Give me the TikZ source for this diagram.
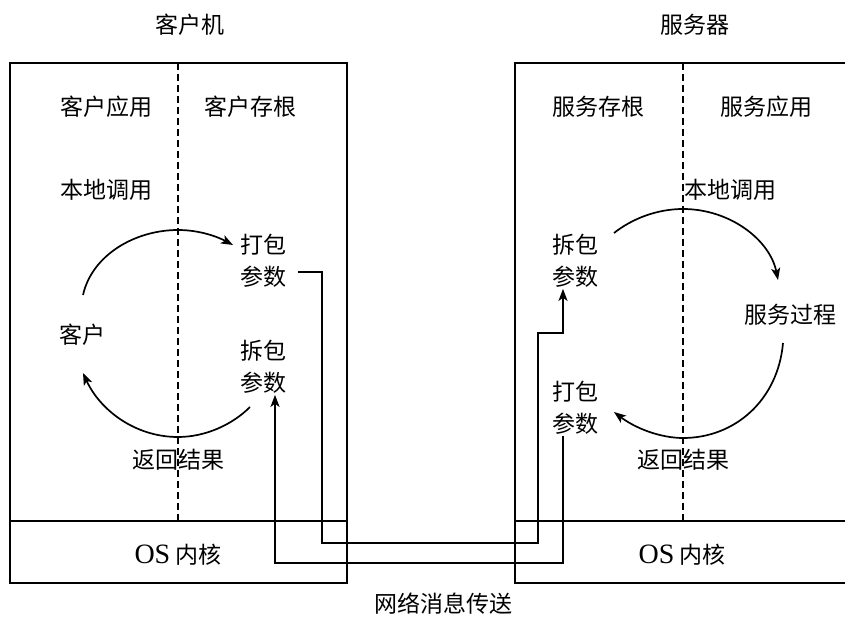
\documentclass[tikz,border=0pt]{standalone}
\usepackage{fontspec}
\setmainfont{Liberation Serif}
\newfontfamily\cjk{Noto Sans CJK SC}
\usetikzlibrary{arrows.meta}
\begin{document}
\begin{tikzpicture}[x=1pt,y=-1pt,
  lbl/.style={inner sep=1pt,align=center,font=\cjk\fontsize{23}{32}\selectfont},
  frame/.style={line width=1.8pt},
  divider/.style={line width=1.6pt,dash pattern=on 7pt off 4pt},
  conn/.style={line width=1.7pt},
  flow/.style={line width=1.7pt,-{Stealth[length=12pt,width=9pt,inset=3pt]}},
  ]
\clip (0,0) rectangle (845,617);
% boxes
\draw[frame] (10,63) rectangle (347,583);
\draw[frame] (10,521) -- (347,521);
\draw[divider] (178,63) -- (178,521);
\draw[frame] (515,63) rectangle (851,583);
\draw[frame] (515,521) -- (851,521);
\draw[divider] (683,63) -- (683,521);
% titles
\node[lbl] (tc) at (190,25) {客户机};
\node[lbl] (ts) at (695,25) {服务器};
% client texts
\node[lbl] (capp) at (106,107) {客户应用};
\node[lbl] (cstub) at (250,107) {客户存根};
\node[lbl] (ccall) at (106,190) {本地调用};
\node[lbl] (pack1) at (263,261) {打包\\参数};
\node[lbl] (client) at (82,335) {客户};
\node[lbl] (unpack1) at (263,367) {拆包\\参数};
\node[lbl] (cret) at (178,460) {返回结果};
\node[lbl] (cos) at (178,555) {{\rmfamily\fontsize{28}{32}\selectfont OS} 内核};
% server texts
\node[lbl] (sstub) at (598,107) {服务存根};
\node[lbl] (sapp) at (766,107) {服务应用};
\node[lbl] (scall) at (730,190) {本地调用};
\node[lbl] (unpack2) at (575,261) {拆包\\参数};
\node[lbl] (sproc) at (790,315) {服务过程};
\node[lbl] (pack2) at (575,408) {打包\\参数};
\node[lbl] (sret) at (683,460) {返回结果};
\node[lbl] (sos) at (682,555) {{\rmfamily\fontsize{28}{32}\selectfont OS} 内核};
\node[lbl] (net) at (443,604) {网络消息传送};
% arcs
\draw[flow] (83,295) .. controls (92,255) and (135,230) .. (178,230)
  .. controls (200,230) and (218,237) .. (233,245);
\draw[flow] (250,407) .. controls (232,425) and (205,437) .. (178,437)
  .. controls (135,437) and (100,410) .. (83,373);
\draw[flow] (614,233) .. controls (633,218) and (658,209) .. (683,209)
  .. controls (730,209) and (770,240) .. (778,280);
\draw[flow] (783,343) .. controls (778,400) and (735,438) .. (683,438)
  .. controls (660,438) and (635,428) .. (614,412);
% network connectors
\coordinate (p1s) at ([xshift=11pt,yshift=-11pt]pack1.east);
\coordinate (c1) at (322,543);
\coordinate (c2) at (538,333);
\coordinate (u2e) at ([xshift=-12pt]unpack2.south);
\draw[conn,-{Stealth[length=12pt,width=9pt,inset=3pt]}] (p1s) -| (c1) -| (c2) -| (u2e);
\coordinate (p2s) at ([xshift=-12pt]pack2.south);
\coordinate (u1e) at ([xshift=12pt]unpack1.south);
\coordinate (lv2) at (0,563);
\draw[conn,-{Stealth[length=12pt,width=9pt,inset=3pt]}] (p2s) -- (p2s |- lv2) -- (u1e |- lv2) -- (u1e);
\end{tikzpicture}
\end{document}
